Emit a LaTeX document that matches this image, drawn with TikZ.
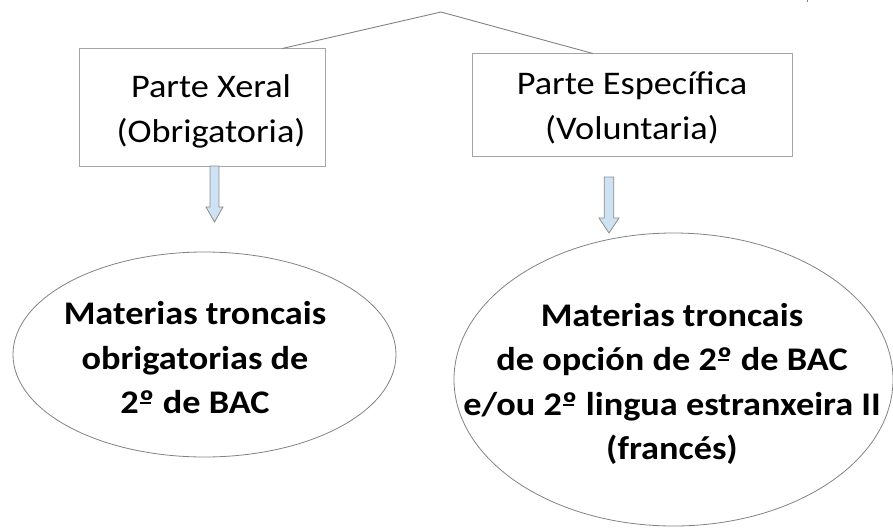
\documentclass[tikz,border=0pt]{standalone}
\usepackage{fontspec}
\setmainfont{Carlito}[FakeStretch=1.1]
\usetikzlibrary{shapes.geometric,calc}
\definecolor{boxline}{RGB}{165,165,165}
\definecolor{thinline}{RGB}{130,130,130}
\definecolor{arrowfill}{RGB}{207,226,243}
\definecolor{arrowline}{RGB}{140,140,140}
\newcommand{\ordmark}{\rlap{\kern0.03em\raisebox{0.29em}{\rule{0.33em}{2pt}}}º}
\tikzset{
  partbox/.style={draw=boxline, line width=1pt, rectangle, inner sep=0pt, align=center},
  boxtext/.style={align=center, inner sep=0pt, font=\fontsize{33}{45}\selectfont},
  oval/.style={draw=thinline, line width=0.8pt, ellipse, inner sep=0pt},
  ovaltext/.style={align=center, inner sep=0pt, font=\fontsize{33}{44.5}\selectfont\bfseries},
  branch/.style={draw=thinline, line width=0.9pt},
  blockarrow/.style={draw=arrowline, fill=arrowfill, line width=0.8pt, line join=miter}
}
\begin{document}
\begin{tikzpicture}[x=1pt,y=-1pt]
\useasboundingbox (0,0) rectangle (893,527);
% boxes
\node[partbox, minimum width=246pt, minimum height=117pt] (lbox) at (202,107.5) {};
\node[partbox, minimum width=320pt, minimum height=102pt] (rbox) at (632,105) {};
\node[boxtext] (ltxt) at (211,111) {Parte Xeral\\(Obrigatoria)};
\node[boxtext] (rtxt) at (632,108) {Parte Específica\\(Voluntaria)};
% ellipses
\node[oval, minimum width=383pt, minimum height=205pt] (lell) at (204.5,354.5) {};
\node[oval, minimum width=439pt, minimum height=293pt] (rell) at (673.5,379.5) {};
\node[ovaltext] (ltext) at (195,358) {Materias troncais\\obrigatorias de\\2\ordmark{} de BAC};
\node[ovaltext] (rtext) at (672,384) {Materias troncais\\de opción de 2\ordmark{} de BAC\\e/ou 2\ordmark{} lingua estranxeira II\\(francés)};
% branch lines
\coordinate (apex) at (441,12);
\draw[branch] ($(lbox.north west)!0.825!(lbox.north east)$) -- (apex) -- ($(rbox.north west)!0.378!(rbox.north east)$);
% block arrows
\coordinate (la) at (214.5,166);
\draw[blockarrow] ($(la)+(-4.5,0)$) -- ($(la)+(4.5,0)$) -- ($(la)+(4.5,41)$) -- ($(la)+(8.5,41)$)
  -- ($(la)+(0,56)$) -- ($(la)+(-8.5,41)$) -- ($(la)+(-4.5,41)$) -- cycle;
\coordinate (ra) at (609,177);
\draw[blockarrow] ($(ra)+(-4.8,0)$) -- ($(ra)+(4.8,0)$) -- ($(ra)+(4.8,41)$) -- ($(ra)+(10,41)$)
  -- ($(ra)+(0,56)$) -- ($(ra)+(-10,41)$) -- ($(ra)+(-4.8,41)$) -- cycle;
% small mark at the top edge
\draw[thinline, line width=1pt] (807,0) -- (807,2.5);
\end{tikzpicture}
\end{document}
